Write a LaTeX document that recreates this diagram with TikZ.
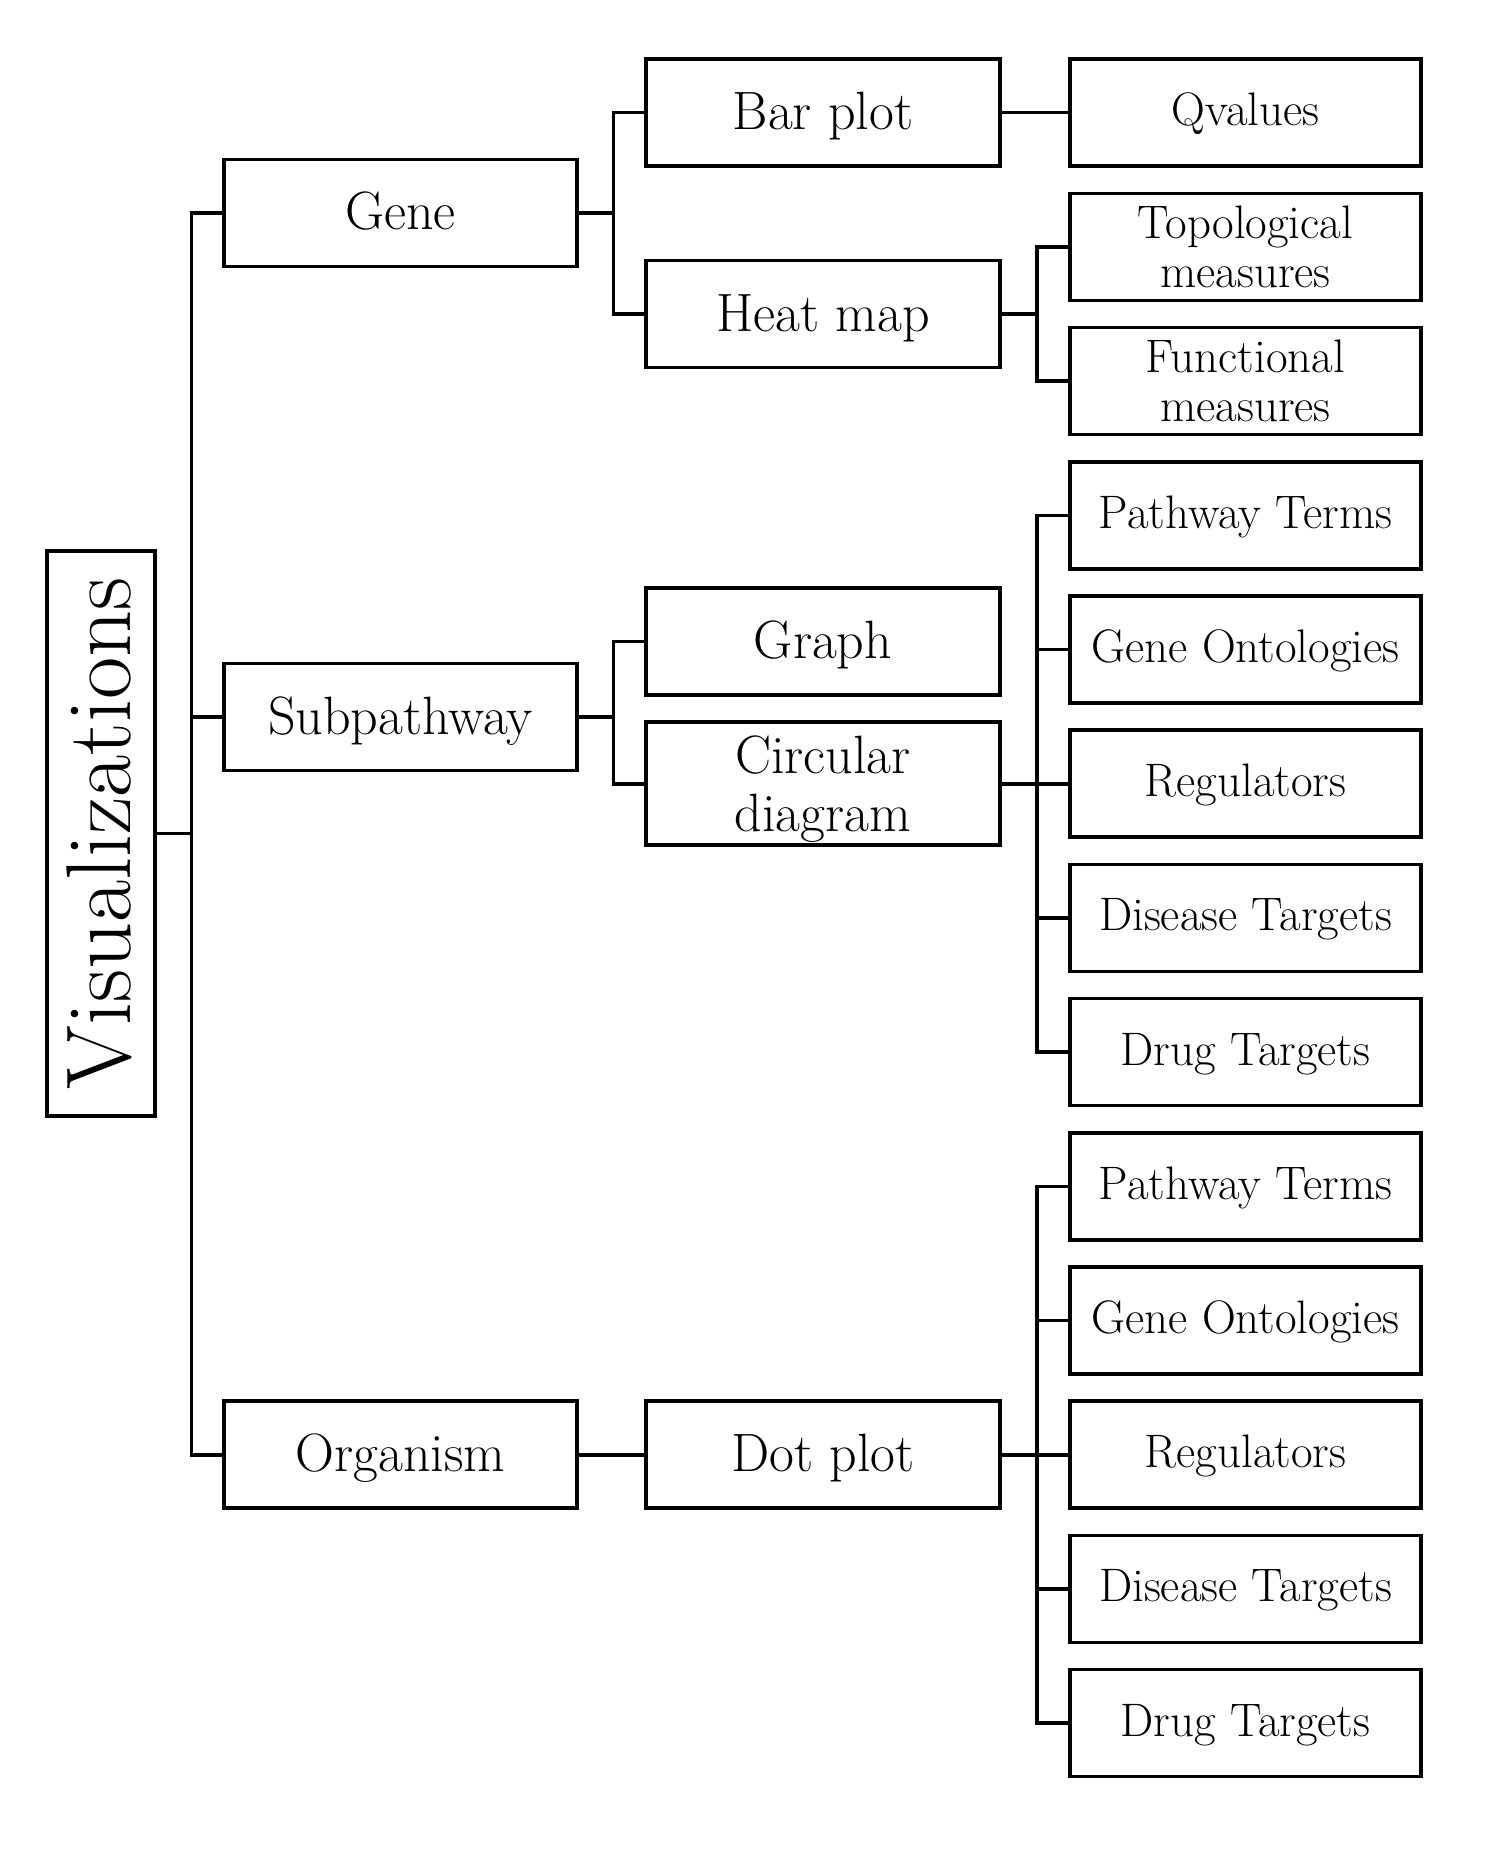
\documentclass[tikz,border=0pt]{standalone}
\usepackage{fontspec}
\usetikzlibrary{calc}
\tikzset{
  box/.style={draw, line width=1.8pt, inner sep=0pt, align=center, minimum height=53.5pt},
  lvone/.style={box, minimum width=176.5pt, font=\fontsize{27}{30}\selectfont, text height=17pt, text depth=0pt},
  lvtwo/.style={box, minimum width=177pt, font=\fontsize{27}{29}\selectfont, text height=17pt, text depth=0pt},
  leaf/.style={box, minimum width=175.5pt, font=\fontsize{23.5}{24.5}\selectfont, text height=13pt, text depth=0pt},
  leafml/.style={box, minimum width=175.5pt, font=\fontsize{23.5}{24.5}\selectfont},
  link/.style={line width=1.8pt, line join=miter},
}
\begin{document}
\begin{tikzpicture}[x=0.5pt,y=-0.5pt]
\useasboundingbox (0,0) rectangle (1497,1851);
% root
\node[box, rotate=90, minimum width=282.5pt, minimum height=54pt,
      font=\fontsize{46}{50}\selectfont, text height=29pt, text depth=0pt] (vis) at (101,833.5) {Visualizations};
% level 1
\node[lvone] (gene) at (400.5,213) {Gene};
\node[lvone] (sub) at (400.5,717) {Subpathway};
\node[lvone] (org) at (400.5,1454.7) {Organism};
% level 2
\node[lvtwo] (bar) at (823,112.7) {Bar plot};
\node[lvtwo] (heat) at (823,314) {Heat map};
\node[lvtwo] (graph) at (823,641.5) {Graph};
\node[box, minimum width=177pt, minimum height=61.5pt, font=\fontsize{27}{29}\selectfont, text depth=0pt] (circ) at (823,783.7) {Circular\\diagram};
\node[lvtwo] (dot) at (823,1454.7) {Dot plot};
% leaves
\node[leaf] (l0) at (1245.5,112.7) {Qvalues};
\node[leafml] (l1) at (1245.5,246.9) {Topological\\measures};
\node[leafml] (l2) at (1245.5,381.1) {Functional\\measures};
\node[leaf] (l3) at (1245.5,515.3) {Pathway Terms};
\node[leaf] (l4) at (1245.5,649.5) {Gene Ontologies};
\node[leaf] (l5) at (1245.5,783.7) {Regulators};
\node[leaf] (l6) at (1245.5,917.9) {Disease Targets};
\node[leaf] (l7) at (1245.5,1052.1) {Drug Targets};
\node[leaf] (l8) at (1245.5,1186.3) {Pathway Terms};
\node[leaf] (l9) at (1245.5,1320.5) {Gene Ontologies};
\node[leaf] (l10) at (1245.5,1454.7) {Regulators};
\node[leaf] (l11) at (1245.5,1588.9) {Disease Targets};
\node[leaf] (l12) at (1245.5,1723.1) {Drug Targets};
% connectors
\foreach \c in {gene,sub,org} \draw[link] (vis.south) -- ++(34.5,0) |- (\c.west);
\foreach \c in {bar,heat} \draw[link] (gene.east) -- ++(34.5,0) |- (\c.west);
\foreach \c in {graph,circ} \draw[link] (sub.east) -- ++(34.5,0) |- (\c.west);
\draw[link] (org.east) -- (dot.west);
\draw[link] (bar.east) -- (l0.west);
\foreach \c in {l1,l2} \draw[link] (heat.east) -- ++(35,0) |- (\c.west);
\foreach \c in {l3,l4,l5,l6,l7} \draw[link] (circ.east) -- ++(35,0) |- (\c.west);
\foreach \c in {l8,l9,l10,l11,l12} \draw[link] (dot.east) -- ++(35,0) |- (\c.west);
\end{tikzpicture}
\end{document}
